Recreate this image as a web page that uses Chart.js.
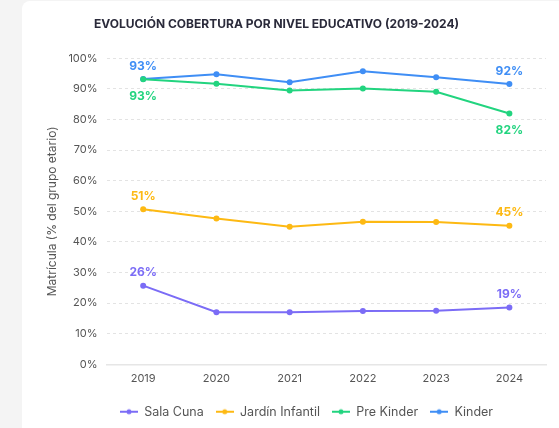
<!DOCTYPE html>
<html>
<head>
<meta charset="utf-8">
<script src="https://cdn.jsdelivr.net/npm/chart.js@4/dist/chart.umd.min.js"></script>
<style>
  html, body { margin: 0; padding: 0; background: #f4f4f4; overflow: hidden; }
  body { width: 559px; height: 428px; position: relative; }
  .card {
    position: fixed; left: 22px; top: 1px; right: -20px; bottom: -20px;
    background: #fff; border-radius: 8px;
  }
  #cobertura { position: absolute; left: 22px; top: 2px; }
</style>
</head>
<body>
<div class="card"></div>
<canvas id="cobertura" width="537" height="426"></canvas>
<script>
// Data
const years = ["2019", "2020", "2021", "2022", "2023", "2024"];
const salaCuna = [25.7, 17.0, 17.0, 17.4, 17.5, 18.6];
const jardinInfantil = [50.7, 47.7, 45.0, 46.6, 46.5, 45.3];
const preKinder = [93.2, 91.7, 89.5, 90.2, 89.1, 82.0];
const kinder = [93.3, 94.8, 92.2, 95.8, 93.8, 91.6];
const yTicks = [0, 10, 20, 30, 40, 50, 60, 70, 80, 90, 100];

const FONT = "Inter, 'Noto Sans', sans-serif";

// small line+dot image for each legend entry
function legendIcon(color) {
  const c = document.createElement("canvas");
  c.width = 18; c.height = 8;
  const g = c.getContext("2d");
  g.strokeStyle = color; g.lineWidth = 2;
  g.beginPath(); g.moveTo(0, 4); g.lineTo(18, 4); g.stroke();
  g.fillStyle = color;
  g.beginPath(); g.arc(9, 4, 2.5, 0, Math.PI * 2); g.fill();
  return c;
}

function series(label, data, color, labelPos) {
  return {
    label, data,
    borderColor: color, backgroundColor: color,
    pointBackgroundColor: color, pointBorderColor: color,
    borderWidth: 2, pointRadius: 3, pointBorderWidth: 0, pointHoverRadius: 4,
    tension: 0, labelPos
  };
}

// first/last value labels
const endLabels = {
  id: "endLabels",
  afterDatasetsDraw(chart) {
    const ctx = chart.ctx;
    ctx.save();
    ctx.font = "bold 12px " + FONT;
    ctx.textAlign = "center";
    ctx.textBaseline = "middle";
    chart.data.datasets.forEach((ds, i) => {
      const pts = chart.getDatasetMeta(i).data;
      [0, pts.length - 1].forEach(k => {
        const p = pts[k];
        const dy = ds.labelPos === "below" ? 17 : -13;
        ctx.fillStyle = ds.borderColor;
        ctx.fillText(Math.round(ds.data[k]) + "%", p.x, p.y + dy);
      });
    });
    ctx.restore();
  }
};

// nudge title and legend horizontally to match the reference
const shiftBoxes = {
  id: "shiftBoxes",
  afterLayout(chart) {
    const t = chart.titleBlock, l = chart.legend;
    if (t) { t.left -= 19; t.right -= 19; }
    if (l) { l.left += 11; l.right += 11; }
  }
};

new Chart(document.getElementById("cobertura"), {
  type: "line",
  data: {
    labels: years,
    datasets: [
      series("Sala Cuna", salaCuna, "#7b6cf6", "above"),
      series("Jardín Infantil", jardinInfantil, "#fdb913", "above"),
      series("Pre Kinder", preKinder, "#22d47f", "below"),
      series("Kinder", kinder, "#3f8ef5", "above")
    ]
  },
  options: {
    responsive: false,
    animation: false,
    layout: { padding: { left: 23, right: 13, top: 0, bottom: 0 } },
    plugins: {
      title: {
        display: true,
        text: "EVOLUCIÓN COBERTURA POR NIVEL EDUCATIVO (2019-2024)",
        color: "#2a2a3a",
        font: { family: FONT, size: 12, weight: "bold" },
        padding: { top: 15, bottom: 27 }
      },
      legend: {
        position: "bottom",
        labels: {
          color: "#555",
          font: { family: FONT, size: 12.5 },
          usePointStyle: true,
          pointStyleWidth: 18,
          padding: 12,
          generateLabels(chart) {
            return chart.data.datasets.map((ds, i) => ({
              text: ds.label,
              fillStyle: ds.borderColor,
              strokeStyle: ds.borderColor,
              fontColor: "#555",
              pointStyle: legendIcon(ds.borderColor),
              lineWidth: 0,
              hidden: !chart.isDatasetVisible(i),
              datasetIndex: i
            }));
          }
        }
      },
      tooltip: { enabled: false }
    },
    scales: {
      x: {
        offset: true,
        grid: { display: false, drawTicks: false },
        border: { display: true, color: "#e6e6e6", width: 1.5 },
        ticks: { color: "#555", font: { family: FONT, size: 11 }, padding: 8 }
      },
      y: {
        min: 0, max: 100,
        afterBuildTicks(axis) { axis.ticks = yTicks.map(v => ({ value: v })); },
        grid: { color: "#e3e3e3", drawTicks: false },
        border: { display: false, dash: [3, 3] },
        ticks: {
          color: "#555", font: { family: FONT, size: 11 }, padding: 9,
          callback: v => v + "%"
        },
        title: {
          display: true,
          text: "Matrícula (% del grupo etario)",
          color: "#555",
          font: { family: FONT, size: 12 },
          padding: 0
        }
      }
    }
  },
  plugins: [endLabels, shiftBoxes]
});
</script>
</body>
</html>
